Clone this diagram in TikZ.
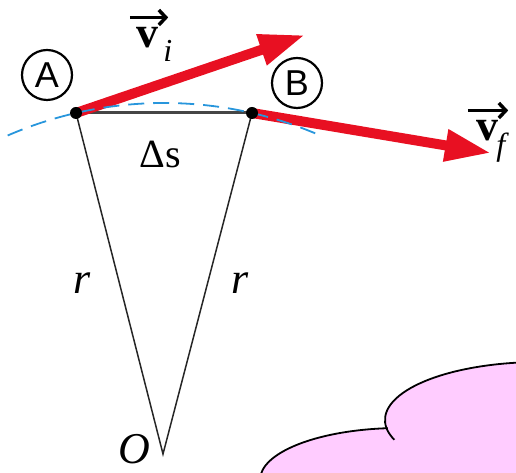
\documentclass[tikz,border=0pt]{standalone}
\usepackage{fontspec}
\setmainfont{Liberation Serif}
\newfontfamily\labelserif{Liberation Serif}
\newfontfamily\labelsans{Liberation Sans}
\usetikzlibrary{arrows.meta, positioning}
\definecolor{velred}{RGB}{232,16,34}
\definecolor{arcblue}{RGB}{40,150,220}
\definecolor{cloudpink}{RGB}{255,204,255}

\begin{document}
\begin{tikzpicture}[
    x=1pt, y=1pt,
    every node/.style={inner sep=0pt},
    dot/.style={circle, fill=black, minimum size=12pt},
    circled/.style={circle, draw, line width=2.2pt, minimum size=50pt,
                    font=\labelsans\fontsize{36}{40}\selectfont},
    vel/.style={velred, line width=10pt, -{Triangle[length=46pt, width=30pt]}},
    radial/.style={black!85, line width=1.5pt},
    chord/.style={gray!55!black, line width=3pt},
    orbit/.style={arcblue, line width=1.8pt, dash pattern=on 16pt off 9pt},
    sym/.style={font=\labelserif\fontsize{44}{48}\selectfont\itshape},
    vec/.style={font=\labelserif\fontsize{44}{48}\selectfont\bfseries},
    sub/.style={font=\labelserif\fontsize{32}{34}\selectfont\itshape},
    vecbar/.style={line width=3.5pt, -{Straight Barb[length=7pt, width=15pt, line width=3.5pt]}},
    cloudline/.style={black, line width=1.8pt}
]
\useasboundingbox (0,0) rectangle (516,473);

\coordinate (A) at (76,360);
\coordinate (B) at (252,360);
\coordinate (O) at (163,19);
\coordinate (vi) at (305,438);
\coordinate (vf) at (491,320);
\coordinate (arcstart) at (7.7,337.5);

% chord and radii
\draw[chord] (A) -- (B);
\draw[radial] (A) -- (O) -- (B);

% velocities
\draw[vel] (A) -- (vi);
\draw[vel] (B) -- (vf);

% path of the particle
\draw[orbit] (arcstart) arc[start angle=113.5, end angle=66.5, radius=392pt];

\node[dot] (dotA) at (A) {};
\node[dot] (dotB) at (B) {};

\node[circled] (lblA) at (47,398) {A};
\node[circled] (lblB) at (297,390) {B};
\node[font=\labelserif\fontsize{40}{44}\selectfont] (ds) at (160,319) {Δs};
\node[sym] (rA) at (82,190) {r};
\node[sym] (rB) at (240,190) {r};
\node[sym] (lblO) at (134,24) {O};

\node[vec] (vilbl) at (147,435) {v};
\node[sub, anchor=north west] (visub) at ([xshift=5pt, yshift=-2pt]vilbl.east) {i};
\draw[vecbar] ([shift={(-6,10)}]vilbl.north west) -- ([shift={(10,10)}]vilbl.north east);

\node[vec] (vflbl) at (487,342) {v};
\node[sub, anchor=north west] (vfsub) at ([xshift=-2pt, yshift=-2pt]vflbl.east) {f};
\draw[vecbar] ([shift={(-8,10)}]vflbl.north west) -- ([shift={(10,10)}]vflbl.north east);

% cloud
\begin{scope}
\clip (0,0) rectangle (516,473);
\fill[cloudpink] (400,-7) ellipse [x radius=140, y radius=52];
\fill[cloudpink] (540,53) ellipse [x radius=155, y radius=58];
\draw[cloudline] (260,-7) arc[start angle=180, end angle=95, x radius=140, y radius=52];
\draw[cloudline] (394.35,33.16) arc[start angle=200, end angle=60, x radius=155, y radius=58];
\end{scope}
\end{tikzpicture}
\end{document}
